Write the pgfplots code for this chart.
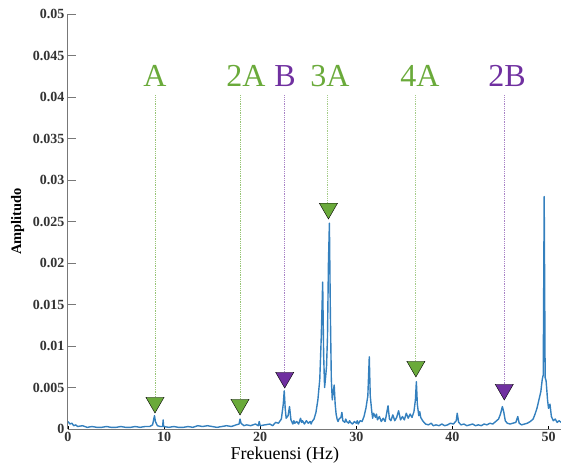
\documentclass[border=0pt]{standalone}
\usepackage{pgfplots}
\pgfplotsset{compat=1.18}
\usepackage{fontspec}
\setmainfont{Liberation Serif}
\usepackage{xcolor}
\definecolor{cSpec}  {RGB}{52,128,190}
\definecolor{cGreen} {RGB}{106,170,58}
\definecolor{cPurple}{RGB}{112,48,160}
\definecolor{cAxis}  {RGB}{120,120,120}

\begin{document}
\begin{tikzpicture}
\begin{axis}[
  at = {(0,0)}, anchor = south west,
  scale only axis,
  width  = 493pt,
  height = 415pt,
  xmin = 0, xmax = 51.3,
  ymin = 0, ymax = 0.05,
  axis x line = bottom,
  axis y line = left,
  axis line style = {-, cAxis, line width=1pt},
  tick style = {cAxis, line width=0.8pt},
  tick align = inside,
  ytick style = {/pgfplots/major tick length=8pt},
  xtick style = {/pgfplots/major tick length=3pt, black},
  xtick = {0,10,20,30,40,50},
  xticklabels = {\textbf{0},\textbf{10},\textbf{20},\textbf{30},\textbf{40},\textbf{50}},
  ytick = {0,0.005,0.01,0.015,0.02,0.025,0.03,0.035,0.04,0.045,0.05},
  yticklabels = {\textbf{0},\textbf{0.005},\textbf{0.01},\textbf{0.015},\textbf{0.02},\textbf{0.025},
                 \textbf{0.03},\textbf{0.035},\textbf{0.04},\textbf{0.045},\textbf{0.05}},
  scaled ticks = false,
  tick label style = {font=\bfseries\fontsize{14}{14}\selectfont, text=black!80},
  xlabel = {Frekuensi (Hz)},
  ylabel = {Amplitudo},
  xlabel style = {font=\fontsize{18}{18}\selectfont, at={(ticklabel cs:0.44)}, anchor=near ticklabel, yshift=2pt},
  ylabel style = {font=\bfseries\fontsize{14.5}{14.5}\selectfont, yshift=2pt},
]

% spectrum
\addplot[cSpec, line width=1.4pt, line join=round] coordinates {
  (0,0.0009)(0.2,0.0006)(0.4,0.0007)(0.6,0.0004)(0.8,0.0005)(1.0,0.0003)
  (1.5,0.0004)(2.0,0.0002)(2.5,0.0003)(3.0,0.0002)(3.5,0.0002)(4.0,0.0003)
  (4.5,0.0002)(5.0,0.0002)(5.5,0.0003)(6.0,0.0002)(6.5,0.0002)(7.0,0.0003)
  (7.5,0.0002)(8.0,0.0003)(8.5,0.0003)(8.8,0.0005)(9.0,0.0016)(9.1,0.0009)
  (9.3,0.0004)(9.6,0.0003)(9.85,0.0003)(9.9,0.0011)(9.95,0.0003)(10.5,0.0002)
  (11,0.0003)(11.5,0.0002)(12,0.0002)(12.5,0.0003)(13,0.0002)(13.5,0.0004)
  (14,0.0003)(14.5,0.0004)(15,0.0003)(15.5,0.0002)(16,0.0003)(16.5,0.0004)
  (17,0.0003)(17.5,0.0005)(17.8,0.0006)(17.9,0.0012)(18.0,0.0007)(18.3,0.0004)
  (18.6,0.0005)(19.0,0.0004)(19.5,0.0006)(19.8,0.0004)(19.9,0.0009)(20.0,0.0004)
  (20.5,0.0005)(21.0,0.0006)(21.3,0.0004)(21.6,0.0008)(21.9,0.0007)(22.2,0.0012)
  (22.4,0.0030)(22.5,0.0046)(22.6,0.0025)(22.7,0.0013)(22.9,0.0016)(23.05,0.0027)
  (23.2,0.0011)(23.4,0.0006)(23.5,0.0010)(23.6,0.0007)(23.8,0.0009)(24.0,0.0006)
  (24.2,0.0013)(24.3,0.0008)(24.4,0.0010)(24.6,0.0006)(24.8,0.0010)(25.0,0.0007)
  (25.2,0.0009)(25.3,0.0006)(25.4,0.0009)(25.6,0.0012)(25.8,0.0020)(26.0,0.0035)
  (26.2,0.0060)(26.35,0.0110)(26.5,0.0177)(26.6,0.0090)(26.7,0.0050)(26.8,0.0062)
  (26.9,0.0075)(27.0,0.0110)(27.1,0.0200)(27.2,0.0248)(27.3,0.0140)(27.4,0.0060)
  (27.5,0.0035)(27.6,0.0045)(27.7,0.0053)(27.8,0.0030)(27.9,0.0018)(28.0,0.0012)
  (28.1,0.0009)(28.2,0.0012)(28.4,0.0014)(28.5,0.0020)(28.6,0.0010)(28.8,0.0008)
  (28.9,0.0012)(29.0,0.0009)(29.2,0.0007)(29.3,0.0010)(29.4,0.0008)(29.6,0.0006)
  (29.8,0.0009)(30.0,0.0007)(30.1,0.0010)(30.2,0.0006)(30.4,0.0010)(30.6,0.0009)
  (30.8,0.0015)(31.0,0.0025)(31.2,0.0040)(31.35,0.0087)(31.45,0.0040)(31.6,0.0022)
  (31.7,0.0013)(31.8,0.0019)(32.0,0.0014)(32.1,0.0018)(32.2,0.0011)(32.4,0.0015)
  (32.6,0.0009)(32.8,0.0013)(33.0,0.0009)(33.3,0.0028)(33.45,0.0012)(33.6,0.0010)
  (33.8,0.0017)(34.0,0.0010)(34.2,0.0014)(34.4,0.0022)(34.6,0.0011)(34.8,0.0015)
  (35.0,0.0011)(35.2,0.0019)(35.4,0.0013)(35.6,0.0018)(35.8,0.0014)(36.0,0.0021)
  (36.15,0.0035)(36.25,0.0057)(36.35,0.0030)(36.5,0.0016)(36.6,0.0021)(36.7,0.0014)
  (36.9,0.0010)(37.2,0.0006)(37.5,0.0005)(37.8,0.0007)(38.0,0.0004)(38.3,0.0005)
  (38.6,0.0004)(38.9,0.0006)(39.2,0.0004)(39.5,0.0005)(39.8,0.0007)(40.1,0.0006)
  (40.4,0.0010)(40.5,0.0019)(40.65,0.0008)(40.9,0.0005)(41.2,0.0006)(41.5,0.0004)
  (41.8,0.0005)(42.1,0.0006)(42.4,0.0004)(42.7,0.0005)(43.0,0.0004)(43.3,0.0006)
  (43.6,0.0005)(43.9,0.0007)(44.2,0.0006)(44.5,0.0009)(44.8,0.0012)(45.0,0.0018)
  (45.2,0.0027)(45.35,0.0020)(45.5,0.0010)(45.7,0.0007)(46.0,0.0006)(46.3,0.0007)
  (46.6,0.0008)(46.8,0.0015)(46.95,0.0007)(47.2,0.0005)(47.5,0.0006)(47.8,0.0007)
  (48.1,0.0009)(48.4,0.0012)(48.6,0.0018)(48.8,0.0025)(49.0,0.0035)(49.2,0.0045)
  (49.35,0.0060)(49.45,0.0065)(49.55,0.0280)(49.65,0.0062)(49.75,0.0058)(49.9,0.0035)
  (50.0,0.0025)(50.15,0.0030)(50.3,0.0015)(50.5,0.0010)(50.7,0.0012)(50.9,0.0008)
  (51.1,0.0010)(51.3,0.0008)
};

% ── pointer lines ───────────────────────────────────────────
\addplot[cGreen!70, line width=0.8pt, densely dotted] coordinates {(9.05,0.0402)(9.05,0.0038)};
\addplot[cGreen!70, line width=0.8pt, densely dotted] coordinates {(17.9,0.0402)(17.9,0.0036)};
\addplot[cPurple!60, line width=0.8pt, densely dotted] coordinates {(22.55,0.0402)(22.55,0.0068)};
\addplot[cGreen!60, line width=0.8pt, densely dotted] coordinates {(26.95,0.0402)(26.95,0.0272)};
\addplot[cGreen!60, line width=0.8pt, densely dotted] coordinates {(36.2,0.0402)(36.2,0.0081)};
\addplot[cPurple!60, line width=0.8pt, densely dotted] coordinates {(45.4,0.0402)(45.4,0.0054)};

% ── pointer heads ───────────────────────────────────────────
\addplot[only marks, mark=triangle*, mark size=10.5pt,
  mark options={rotate=180, fill=cGreen, draw=none}] coordinates {
  (9.05,0.00319)(17.9,0.00295)(27.1,0.02657)(36.2,0.00753)
};
\addplot[only marks, mark=triangle*, mark size=10.5pt,
  mark options={rotate=180, fill=cPurple, draw=none}] coordinates {
  (22.55,0.00620)(45.4,0.00476)
};

% ── labels ──────────────────────────────────────────────────
\begin{scope}[every node/.style={anchor=base, inner sep=0pt, font=\fontsize{32}{32}\selectfont}]
  \node[text=cGreen]  at (axis cs:9.05,0.0413)  {A};
  \node[text=cGreen]  at (axis cs:18.52,0.0413) {2A};
  \node[text=cPurple] at (axis cs:22.58,0.0413) {B};
  \node[text=cGreen]  at (axis cs:27.26,0.0413) {3A};
  \node[text=cGreen]  at (axis cs:36.63,0.0413) {4A};
  \node[text=cPurple] at (axis cs:45.68,0.0413) {2B};
\end{scope}

\end{axis}
\pgfresetboundingbox
\path[use as bounding box] (-68pt,-46pt) rectangle (493pt,429pt);
\end{tikzpicture}
\end{document}
